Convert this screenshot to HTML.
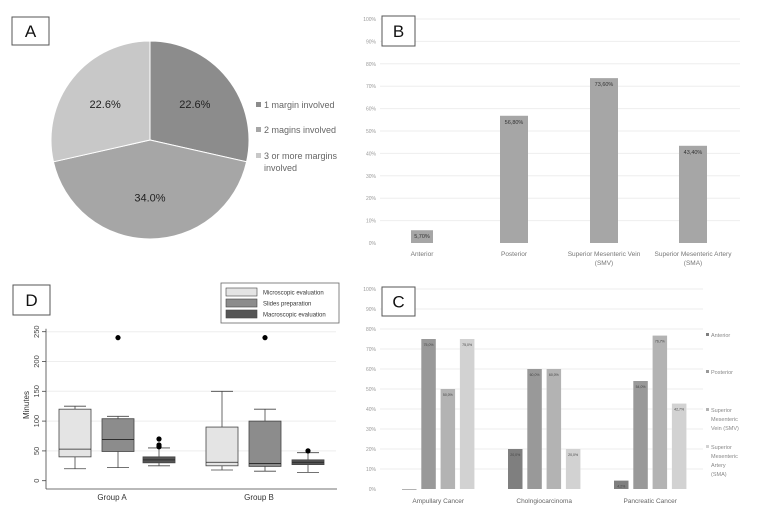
<!DOCTYPE html>
<html><head><meta charset="utf-8"><style>
html,body{margin:0;padding:0;background:#fff;}
svg{display:block;font-family:"Liberation Sans",sans-serif;}
</style></head><body>
<svg id="fig" width="762" height="517" viewBox="0 0 762 517" xmlns="http://www.w3.org/2000/svg">
<rect x="0" y="0" width="762" height="517" fill="#fff"/>
<g id="pA"></g>
<g id="pB"></g>
<g id="pC"></g>
<g id="pD"></g>
</svg>
<script>
// Panel A data
const pieLabels = ["1 margin involved","2 magins involved","3 or more margins involved"];
const pieValues = [22.6, 34.0, 22.6];
// Panel B data
const bCategories = ["Anterior","Posterior","Superior Mesenteric Vein (SMV)","Superior Mesenteric Artery (SMA)"];
const bValues = [5.7, 56.8, 73.6, 43.4];
const bValueLabels = ["5,70%","56,80%","73,60%","43,40%"];
const pctTicks = [0,10,20,30,40,50,60,70,80,90,100];
// Panel C data
const cCategories = ["Ampullary Cancer","Cholngiocarcinoma","Pancreatic Cancer"];
const cSeries = ["Anterior","Posterior","Superior Mesenteric Vein (SMV)","Superior Mesenteric Artery (SMA)"];
const cAnterior = [0, 20, 4.2];
const cPosterior = [75, 60, 54.0];
const cSMV = [50, 60, 76.7];
const cSMA = [75, 20, 42.7];
// Panel D data
const dGroups = ["Group A","Group B"];
const dSeries = ["Microscopic evaluation","Slides preparation","Macroscopic evaluation"];
const dMin = [[20,22,25],[18,16,14]];
const dQ1 = [[40,49,30],[25,24,27]];
const dMed = [[53,69,35],[31,29,31]];
const dQ3 = [[120,104,40],[90,100,35]];
const dMax = [[125,108,55],[150,120,47]];
const dOutliers = [[[],[240],[57,60,70]],[[],[240],[50]]];
const dTicks = [0,50,100,150,200,250];

const NS="http://www.w3.org/2000/svg";
function mk(parent,tag,attrs,text){const e=document.createElementNS(NS,tag);for(const k in attrs)e.setAttribute(k,attrs[k]);if(text!==undefined)e.textContent=text;parent.appendChild(e);return e;}
function labelBox(g,x,y,w,h,t){
  const b=mk(g,'rect',{x:x,y:y,width:w,height:h,fill:'#fff',stroke:'#555','stroke-width':1});
  
  
  const tx=mk(g,'text',{x:x+w/2,y:y+h/2+6,'font-size':17,'text-anchor':'middle',fill:'#111'},t);
  
  
}

// ---- Panel A ----
(function(){
  const g=document.getElementById('pA');
  labelBox(g,12,17,37,28,'A');
  const cx=150,cy=140,r=99;
  const cols=['#8c8c8c','#a6a6a6','#c8c8c8'];
  const tot=pieValues.reduce((a,b)=>a+b,0);
  let a0=0;
  pieValues.forEach((v,i)=>{
    const a1=a0+v/tot*2*Math.PI;
    const x0=cx+r*Math.sin(a0),y0=cy-r*Math.cos(a0),x1=cx+r*Math.sin(a1),y1=cy-r*Math.cos(a1);
    const p=mk(g,'path',{d:`M${cx},${cy}L${x0},${y0}A${r},${r} 0 ${a1-a0>Math.PI?1:0} 1 ${x1},${y1}Z`,fill:cols[i],stroke:'#fff','stroke-width':1});
    
    
    const am=(a0+a1)/2;
    const t=mk(g,'text',{x:cx+r*0.58*Math.sin(am),y:cy-r*0.58*Math.cos(am)+4,'font-size':11,'text-anchor':'middle',fill:'#222'},v.toFixed(1)+'%');
    
    
    a0=a1;
  });
  const ly=[108,133,159];
  pieLabels.forEach((l,i)=>{
    const s=mk(g,'rect',{x:256,y:ly[i]-6,width:5,height:5,fill:cols[i]});
    
    
    if(i===2){
      const t=mk(g,'text',{x:264,y:ly[i],'font-size':9,fill:'#666'},'3 or more margins');
      
      
      const t2=mk(g,'text',{x:264,y:ly[i]+12,'font-size':9,fill:'#666'},'involved');
      
      
    } else {
      const t=mk(g,'text',{x:264,y:ly[i],'font-size':9,fill:'#666'},l);
      
      
    }
  });
})();

// ---- Panel B ----
(function(){
  const g=document.getElementById('pB');
  const y0=243,y100=19;
  const yS=v=>y0-(y0-y100)*v/100;
  pctTicks.forEach(t=>{
    if(t>0){const l=mk(g,'line',{x1:380,x2:740,y1:yS(t),y2:yS(t),stroke:'#eee','stroke-width':1});
      
      }
    const tx=mk(g,'text',{x:376,y:yS(t)+2,'font-size':5,'text-anchor':'end',fill:'#999'},t+'%');
    
    
  });
  labelBox(g,382,16,33,30,'B');
  const cx=[422,514,604,693],bw=28;
  bValues.forEach((v,i)=>{
    const w=i===0?22:bw;
    const b=mk(g,'rect',{x:cx[i]-w/2,y:yS(v),width:w,height:y0-yS(v),fill:'#a6a6a6'});
    
    
    const t=mk(g,'text',{x:cx[i],y:yS(v)+8,'font-size':5.5,'text-anchor':'middle',fill:'#333'},bValueLabels[i]);
    
    
    const parts=bCategories[i].match(/^(.*?)( \(.*\))?$/);
    const c=mk(g,'text',{x:cx[i],y:256,'font-size':6.5,'text-anchor':'middle',fill:'#777'},parts[1]);
    
    
    if(parts[2]){const c2=mk(g,'text',{x:cx[i],y:265,'font-size':6.5,'text-anchor':'middle',fill:'#777'},parts[2].trim());
      
      }
  });
})();

// ---- Panel C ----
(function(){
  const g=document.getElementById('pC');
  const y0=489,y100=289;
  const yS=v=>y0-(y0-y100)*v/100;
  pctTicks.forEach(t=>{
    if(t>0){const l=mk(g,'line',{x1:380,x2:703,y1:yS(t),y2:yS(t),stroke:'#eee','stroke-width':1});
      
      }
    const tx=mk(g,'text',{x:376,y:yS(t)+2,'font-size':5,'text-anchor':'end',fill:'#999'},t+'%');
    
    
  });
  labelBox(g,382,287,33,29,'C');
  const series=[cAnterior,cPosterior,cSMV,cSMA];
  const cols=['#7f7f7f','#999999','#b3b3b3','#d2d2d2'];
  const names=['anterior','posterior','smv','sma'];
  const gx=[402,508,614],step=19.3,bw=14.5;
  cCategories.forEach((cat,gi)=>{
    series.forEach((s,si)=>{
      const v=s[gi],x=gx[gi]+si*step;
      const b=mk(g,'rect',{x:x,y:yS(v),width:bw,height:Math.max(0.6,y0-yS(v)),fill:cols[si]});
      
      
      if(v>0){const t=mk(g,'text',{x:x+bw/2,y:yS(v)+7,'font-size':3.5,'text-anchor':'middle',fill:'#444'},v.toFixed(1).replace('.',',')+'%');
        
        }
    });
    const c=mk(g,'text',{x:gx[gi]+1.5*step+bw/2,y:503,'font-size':6.5,'text-anchor':'middle',fill:'#666'},cat);
    
    
  });
  const lines=[['Anterior'],['Posterior'],['Superior','Mesenteric','Vein (SMV)'],['Superior','Mesenteric','Artery','(SMA)']];
  const ly=[337,374,412,449];
  lines.forEach((ls,i)=>{
    const s=mk(g,'rect',{x:706,y:ly[i]-4,width:3,height:3,fill:cols[i]});
    
    
    ls.forEach((l,j)=>{const t=mk(g,'text',{x:711,y:ly[i]+j*9,'font-size':5.5,fill:'#888'},l);
      
      });
  });
})();

// ---- Panel D ----
(function(){
  const g=document.getElementById('pD');
  labelBox(g,13,285,37,30,'D');
  const y0=480.7,yTop=331.7;
  const yS=v=>y0-(y0-yTop)*v/250;
  dTicks.forEach(t=>{
    if(t>0){const l=mk(g,'line',{x1:46,x2:336,y1:yS(t),y2:yS(t),stroke:'#eee','stroke-width':1});
      
      }
    const k=mk(g,'line',{x1:42,x2:46,y1:yS(t),y2:yS(t),stroke:'#444','stroke-width':0.8});
    
    
    const tx=mk(g,'text',{x:39,y:yS(t),'font-size':7.5,'text-anchor':'middle',fill:'#444',transform:`rotate(-90 39 ${yS(t)})`},t);
    
    
  });
  const ax=mk(g,'line',{x1:46,x2:46,y1:yTop-3,y2:489,stroke:'#444','stroke-width':0.8});
  
  
  const ax2=mk(g,'line',{x1:46,x2:337,y1:489,y2:489,stroke:'#444','stroke-width':0.8});
  
  
  const yt=mk(g,'text',{x:29,y:405,'font-size':8,'text-anchor':'middle',fill:'#333',transform:'rotate(-90 29 405)'},'Minutes');
  
  
  const cols=['#e4e4e4','#8c8c8c','#555555'];
  const bx=[[59,102,143],[206,249,292]],bw=32;
  dGroups.forEach((grp,gi)=>{
    dSeries.forEach((s,si)=>{
      const x=bx[gi][si],c=x+bw/2;
      const w=mk(g,'line',{x1:c,x2:c,y1:yS(dMin[gi][si]),y2:yS(dMax[gi][si]),stroke:'#444','stroke-width':0.8});
      
      
      [dMin[gi][si],dMax[gi][si]].forEach(v=>{const cp=mk(g,'line',{x1:c-11,x2:c+11,y1:yS(v),y2:yS(v),stroke:'#444','stroke-width':0.8});
        
        });
      const b=mk(g,'rect',{x:x,y:yS(dQ3[gi][si]),width:bw,height:yS(dQ1[gi][si])-yS(dQ3[gi][si]),fill:cols[si],stroke:'#444','stroke-width':0.8});
      
      
      const m=mk(g,'line',{x1:x,x2:x+bw,y1:yS(dMed[gi][si]),y2:yS(dMed[gi][si]),stroke:'#222','stroke-width':0.8});
      
      
      dOutliers[gi][si].forEach(v=>{const o=mk(g,'circle',{cx:c,cy:yS(v),r:2.6,fill:'#000'});
        
        });
    });
    const t=mk(g,'text',{x:bx[gi][1]+bw/2-6,y:500,'font-size':8,'text-anchor':'middle',fill:'#333'},grp);
    
    
  });
  const lb=mk(g,'rect',{x:221,y:283,width:118,height:40,fill:'#fff',stroke:'#666','stroke-width':0.8});
  
  
  const ly=[288,299,310];
  dSeries.forEach((s,i)=>{
    const sw=mk(g,'rect',{x:226,y:ly[i],width:31,height:8,fill:cols[i],stroke:'#444','stroke-width':0.6});
    
    
    const t=mk(g,'text',{x:263,y:ly[i]+6.5,'font-size':6,fill:'#333'},s);
    
    
  });
})();
</script>
</body></html>
